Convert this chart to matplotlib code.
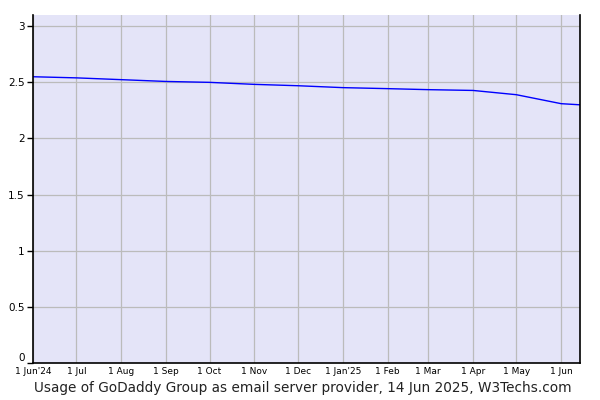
import datetime as dt
import matplotlib
matplotlib.use("Agg")
import matplotlib.pyplot as plt

# data (percentage of websites)
dates = ["2024-06-01", "2024-07-01", "2024-08-01", "2024-09-01", "2024-10-01",
         "2024-11-01", "2024-12-01", "2025-01-01", "2025-02-01", "2025-03-01",
         "2025-04-01", "2025-05-01", "2025-06-01", "2025-06-14"]
usage = [2.55, 2.54, 2.524, 2.508, 2.50, 2.482, 2.47, 2.453, 2.444, 2.435,
         2.428, 2.39, 2.31, 2.30]

tick_dates = ["2024-06-01", "2024-07-01", "2024-08-01", "2024-09-01", "2024-10-01",
              "2024-11-01", "2024-12-01", "2025-01-01", "2025-02-01", "2025-03-01",
              "2025-04-01", "2025-05-01", "2025-06-01"]
tick_labels = ["1 Jun'24", "1 Jul", "1 Aug", "1 Sep", "1 Oct", "1 Nov", "1 Dec",
               "1 Jan'25", "1 Feb", "1 Mar", "1 Apr", "1 May", "1 Jun"]
y_ticks = [0, 0.5, 1, 1.5, 2, 2.5, 3]
y_labels = ["0", "0.5", "1", "1.5", "2", "2.5", "3"]

x = [dt.datetime.strptime(d, "%Y-%m-%d") for d in dates]
xt = [dt.datetime.strptime(d, "%Y-%m-%d") for d in tick_dates]

fig = plt.figure(figsize=(6, 4), dpi=100)
ax = fig.add_axes([0.055, 0.0925, 0.9117, 0.87])
ax.set_facecolor("#e4e4f8")

ax.plot(x, usage, color="#0000ff", linewidth=1)

ax.set_xlim(x[0], x[-1])
ax.set_ylim(0, 3.1)
ax.set_xticks(xt)
ax.set_xticklabels(tick_labels, fontsize=6.5)
ax.set_yticks(y_ticks)
ax.set_yticklabels(y_labels, fontsize=7.5)
# nudge the "0" up a little so it clears the first date label
ax.get_yticklabels()[0].set_va("bottom")

ax.grid(True, color="#bbbbbb", linewidth=0.9)
ax.set_axisbelow(True)
ax.tick_params(axis="x", length=0, pad=3)
ax.tick_params(axis="y", length=4, width=1, pad=2)

ax.spines["top"].set_visible(False)
for s in ["left", "right", "bottom"]:
    ax.spines[s].set_color("black")
    ax.spines[s].set_linewidth(1.2)

fig.text(0.505, 0.03, "Usage of GoDaddy Group as email server provider, 14 Jun 2025, W3Techs.com",
         ha="center", va="center", fontsize=9.8, color="#222222")

fig.savefig("out.png", dpi=100)
